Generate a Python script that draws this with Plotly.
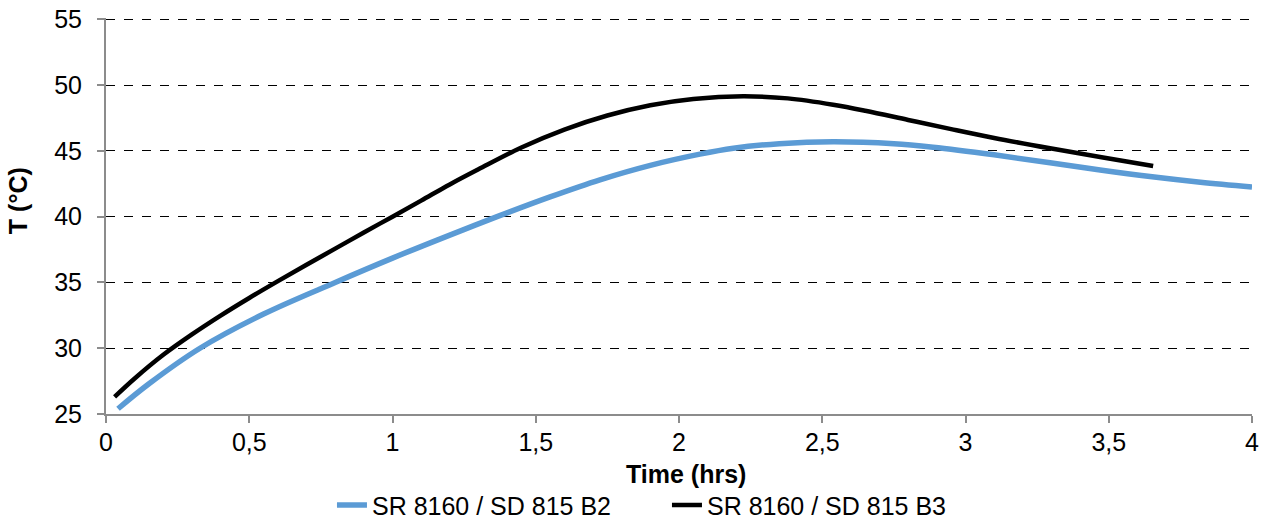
import plotly.graph_objects as go

# Series: SR 8160 / SD 815 B2 (blue)
b2_time = [0.042, 0.15, 0.328, 0.55, 0.8, 1.0, 1.2, 1.365, 1.55, 1.724, 1.9, 2.073,
           2.19, 2.35, 2.538, 2.75, 2.887, 3.1, 3.295, 3.47, 3.644, 3.82, 4.0]
b2_temp = [25.4, 27.3, 30.0, 32.6, 35.0, 36.85, 38.6, 40.0, 41.5, 42.8, 43.9, 44.75,
           45.2, 45.55, 45.7, 45.55, 45.28, 44.7, 44.1, 43.55, 43.05, 42.62, 42.26]

# Series: SR 8160 / SD 815 B3 (black)
b3_time = [0.03, 0.1, 0.2, 0.3, 0.4, 0.5, 0.6, 0.7, 0.8, 0.9, 1.0, 1.1, 1.2, 1.3, 1.45,
           1.6, 1.75, 1.9, 2.05, 2.224, 2.38, 2.538, 2.65, 2.8, 2.95, 3.1, 3.295, 3.48, 3.655]
b3_temp = [26.3, 27.7, 29.5, 31.05, 32.48, 33.82, 35.1, 36.35, 37.57, 38.8, 40.0, 41.22,
           42.45, 43.6, 45.26, 46.62, 47.69, 48.47, 48.95, 49.15, 48.99, 48.51, 48.05,
           47.35, 46.65, 45.98, 45.2, 44.5, 43.85]

x_ticks = [0, 0.5, 1, 1.5, 2, 2.5, 3, 3.5, 4]
y_ticks = [25, 30, 35, 40, 45, 50, 55]
x_title = "Time (hrs)"
y_title = "T (°C)"

fig = go.Figure()
fig.add_trace(go.Scatter(x=b2_time, y=b2_temp, mode="lines", name="SR 8160 / SD 815 B2",
                         line=dict(color="#5B9BD5", width=5.5, shape="spline", smoothing=1)))
fig.add_trace(go.Scatter(x=b3_time, y=b3_temp, mode="lines", name="SR 8160 / SD 815 B3",
                         line=dict(color="#000000", width=4.5, shape="spline", smoothing=1)))

fig.update_layout(
    width=1268, height=523,
    margin=dict(l=106, r=16, t=18, b=109, autoexpand=False),
    paper_bgcolor="white", plot_bgcolor="white",
    separators=",.",
    font=dict(family="Liberation Sans, Arial, sans-serif", size=25, color="black"),
    showlegend=True,
    legend=dict(orientation="h", x=0.4895, xanchor="center", y=0.034, yanchor="middle",
                yref="container",
                font=dict(family="Liberation Sans, Arial, sans-serif", size=25),
                entrywidth=290, tracegroupgap=0),
    annotations=[
        dict(text=f"<b>{x_title}</b>", xref="paper", yref="paper", x=0.506, y=-0.1515,
             xanchor="center", yanchor="middle", showarrow=False, font=dict(size=25)),
        dict(text=f"<b>{y_title}</b>", xref="paper", yref="paper", x=-0.0768, y=0.54,
             xanchor="center", yanchor="middle", showarrow=False, textangle=-90,
             font=dict(size=25)),
    ],
)
fig.update_xaxes(range=[0, 4], tickvals=x_ticks, showgrid=False, zeroline=False,
                 showline=True, linecolor="#8c8c8c", linewidth=2,
                 ticks="outside", ticklen=7, tickcolor="#8c8c8c", tickwidth=2,
                 ticklabelstandoff=-2, automargin=False)
fig.update_yaxes(range=[25, 55.1], tickvals=y_ticks, showgrid=True, gridcolor="black",
                 griddash="dash", gridwidth=1, zeroline=False,
                 showline=True, linecolor="#8c8c8c", linewidth=2,
                 ticks="outside", ticklen=7, tickcolor="#8c8c8c", tickwidth=2,
                 ticklabelstandoff=10, automargin=False)

fig.write_html("out.html")
